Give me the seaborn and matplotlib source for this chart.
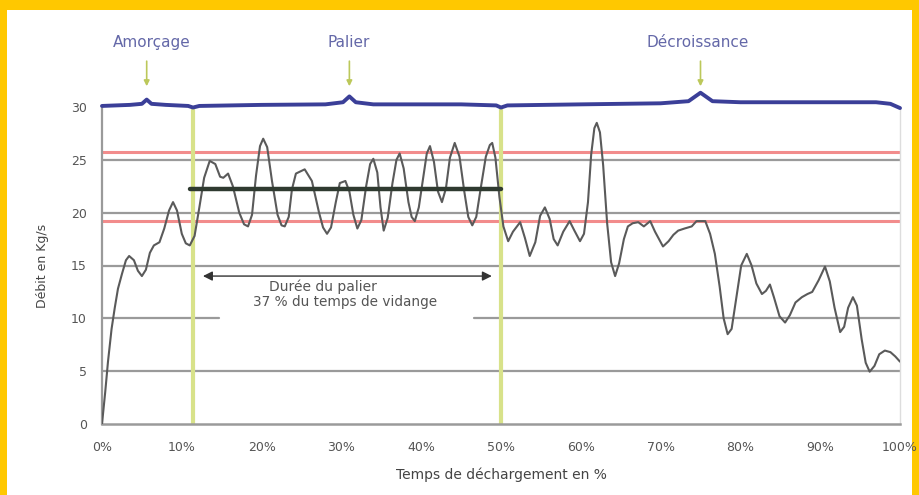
import matplotlib
matplotlib.use("Agg")
import matplotlib.pyplot as plt
import seaborn as sns
import pandas as pd
from matplotlib.patches import Rectangle

# ---------------- data ----------------
temps_pct = [0, 0.4, 0.75, 1.2, 1.6, 2.0, 2.5, 3.0, 3.4, 4.0, 4.5, 5.0, 5.5, 6.0, 6.5, 7.2, 7.8,
             8.4, 8.9, 9.4, 10.0, 10.5, 11.0, 11.6, 12.2, 12.8, 13.5, 14.2, 14.8, 15.2, 15.8,
             16.4, 17.2, 17.8, 18.3, 18.8, 19.3, 19.8, 20.2, 20.7, 21.3, 22.0, 22.5, 22.9,
             23.4, 23.8, 24.3, 25.4, 26.3, 27.2, 27.7, 28.2, 28.7, 29.3, 29.8, 30.5, 31.0,
             31.5, 32.0, 32.5, 33.1, 33.6, 34.0, 34.5, 34.9, 35.3, 35.8, 36.4, 36.9, 37.3,
             37.8, 38.4, 38.8, 39.2, 39.7, 40.3, 40.7, 41.1, 41.6, 42.1, 42.6, 43.1, 43.6,
             44.2, 44.8, 45.4, 45.9, 46.4, 46.9, 47.5, 48.1, 48.6, 48.9, 49.3, 49.8, 50.3,
             50.9, 51.5, 52.4, 53.0, 53.6, 54.3, 54.9, 55.5, 56.1, 56.6, 57.1, 57.8, 58.6,
             59.2, 59.9, 60.4, 60.9, 61.3, 61.7, 62.0, 62.4, 62.8, 63.3, 63.8, 64.3, 64.8,
             65.4, 65.9, 66.5, 67.2, 67.9, 68.7, 69.3, 70.3, 71.0, 71.6, 72.2, 73.0, 73.9,
             74.5, 75.6, 76.2, 76.8, 77.4, 77.9, 78.4, 78.9, 79.5, 80.1, 80.8, 81.4, 82.0,
             82.7, 83.2, 83.7, 84.2, 84.9, 85.6, 86.2, 86.9, 87.7, 88.4, 89.0, 89.8, 90.6,
             91.2, 91.8, 92.5, 93.0, 93.5, 94.1, 94.6, 95.2, 95.7, 96.2, 96.8, 97.4, 98.1,
             98.8, 99.4, 100.0]
debit = [0, 3.0, 5.9, 9.0, 11.0, 12.8, 14.2, 15.5, 15.9, 15.5, 14.5, 14.0, 14.6, 16.2, 16.9,
         17.2, 18.5, 20.2, 21.0, 20.2, 18.0, 17.1, 16.9, 17.8, 20.5, 23.3, 24.9, 24.6, 23.4,
         23.3, 23.7, 22.5, 20.0, 18.9, 18.7, 19.8, 23.5, 26.3, 27.0, 26.2, 23.0, 19.8, 18.8,
         18.7, 19.6, 22.2, 23.7, 24.1, 23.0, 20.0, 18.6, 18.0, 18.6, 21.0, 22.8, 23.0, 22.0,
         19.8, 18.5, 19.3, 22.5, 24.6, 25.1, 23.8, 20.5, 18.3, 19.5, 22.8, 25.0, 25.6, 24.2,
         21.0, 19.6, 19.2, 20.5, 23.6, 25.6, 26.3, 24.8, 22.0, 21.0, 22.3, 25.2, 26.6, 25.3,
         22.0, 19.6, 18.8, 19.6, 22.5, 25.3, 26.4, 26.6, 25.2, 21.5, 18.7, 17.3, 18.2, 19.1,
         17.6, 15.9, 17.2, 19.7, 20.5, 19.4, 17.5, 16.9, 18.2, 19.2, 18.3, 17.3, 18.0, 21.0,
         25.5, 28.0, 28.5, 27.6, 24.5, 19.0, 15.3, 14.0, 15.2, 17.5, 18.7, 19.0, 19.1, 18.7,
         19.2, 18.2, 16.8, 17.3, 17.9, 18.3, 18.5, 18.7, 19.2, 19.2, 18.0, 16.1, 13.0, 10.0,
         8.5, 9.0, 12.0, 15.0, 16.1, 15.0, 13.3, 12.3, 12.6, 13.2, 12.0, 10.2, 9.6, 10.3,
         11.5, 12.0, 12.3, 12.5, 13.6, 14.9, 13.5, 11.0, 8.7, 9.2, 11.0, 12.0, 11.2, 8.0,
         5.8, 4.95, 5.5, 6.6, 6.95, 6.8, 6.4, 5.9]

x_ticks = [0, 10, 20, 30, 40, 50, 60, 70, 80, 90, 100]
x_tick_labels = ["0%", "10%", "20%", "30%", "40%", "50%", "60%", "70%", "80%", "90%", "100%"]
y_ticks = [0, 5, 10, 15, 20, 25, 30]

phase_names = ["Amorçage", "Palier", "Décroissance"]
phase_pos = [5.6, 31.0, 75.0]
phase_label_x = [6.2, 30.9, 74.6]
phase_bounds = [11.4, 50.0]
seuils_rouges = [25.7, 19.2]
palier_moyen = 22.2

brace_x = [0, 3.5, 5.0, 5.6, 6.2, 8, 10.8, 11.4, 12.2, 20, 28, 30.2, 31.0, 31.8, 34, 45,
           49.4, 50.0, 50.8, 60, 70, 73.5, 75.0, 76.5, 80, 90, 97, 98.8, 100]
brace_y = [30.1, 30.2, 30.3, 30.7, 30.3, 30.2, 30.1, 29.95, 30.1, 30.2, 30.25, 30.45, 31.0,
           30.45, 30.25, 30.25, 30.15, 29.95, 30.15, 30.25, 30.35, 30.55, 31.35, 30.55, 30.45,
           30.45, 30.45, 30.3, 29.9]

# ---------------- style ----------------
sns.set_style("white")
plt.rcParams["font.family"] = ["DejaVu Sans"]

fig = plt.figure(figsize=(9.2, 4.95), dpi=100, facecolor="#FFC800")
fig.patches.append(Rectangle((7 / 920, 0), (912 - 7) / 920, (495 - 10) / 495,
                             transform=fig.transFigure, facecolor="white",
                             edgecolor="none", zorder=-10))

ax = fig.add_axes([102 / 920, 1 - 424 / 495, 798 / 920, 317 / 495])
ax.set_zorder(5)
ax.set_facecolor("white")
ax.set_xlim(0, 100)
ax.set_ylim(0, 30)

grid_c = "#9a9a9a"
# horizontal grid lines
for yv in [5, 15, 20, 25]:
    ax.axhline(yv, color=grid_c, lw=1.6, zorder=1)
ax.plot([0, 14.6], [10, 10], color=grid_c, lw=1.6, zorder=1)
ax.plot([46.6, 100], [10, 10], color=grid_c, lw=1.6, zorder=1)

# red threshold lines
for yv in seuils_rouges:
    ax.axhline(yv, color="#f07878", lw=2.2, alpha=0.85, zorder=2)

# phase boundaries
for xv in phase_bounds:
    ax.plot([xv, xv], [0, 30], color="#d8e28a", lw=3, zorder=2, solid_capstyle="butt")

# main curve
df = pd.DataFrame({"temps": temps_pct, "debit": debit})
sns.lineplot(data=df, x="temps", y="debit", ax=ax, color="#5a5a5a", lw=1.5, zorder=4,
             sort=False)

# mean plateau line
ax.plot([11.0, 50.0], [palier_moyen, palier_moyen], color="#2f3a30", lw=3.2, zorder=5)

# duration arrow
ax.annotate("", xy=(12.3, 14.0), xytext=(49.2, 14.0),
            arrowprops=dict(arrowstyle="<|-|>", color="#333333", lw=1.0,
                            mutation_scale=14), zorder=6)
ax.text(27.7, 12.95, "Durée du palier", ha="center", va="center", fontsize=10,
        color="#555555", zorder=6)
ax.text(30.4, 11.5, "37 % du temps de vidange", ha="center", va="center", fontsize=9.8,
        color="#555555", zorder=6)

# blue brace on top
ax.plot(brace_x, brace_y, color="#3b3f98", lw=2.8, clip_on=False, zorder=6,
        solid_capstyle="round")

# phase labels with arrows
for name, xp, xl in zip(phase_names, phase_pos, phase_label_x):
    ax.annotate("", xy=(xp, 31.7), xytext=(xp, 34.6),
                arrowprops=dict(arrowstyle="-|>", color="#bcc85a", lw=1.2,
                                mutation_scale=8), annotation_clip=False)
    ax.text(xl, 36.1, name, ha="center", va="center", fontsize=11,
            color="#6468a8", clip_on=False)

# spines / axes
ax.spines["top"].set_visible(False)
ax.spines["left"].set_color(grid_c)
ax.spines["left"].set_linewidth(1.6)
ax.spines["bottom"].set_color(grid_c)
ax.spines["bottom"].set_linewidth(1.8)
ax.spines["right"].set_color("#dddddd")
ax.spines["right"].set_linewidth(1.0)

ax.set_xticks(x_ticks)
ax.set_xticklabels(x_tick_labels)
ax.set_yticks(y_ticks)
ax.tick_params(axis="both", labelsize=9, colors="#555555", length=3, width=0.8,
               labelcolor="#555555")
ax.tick_params(axis="x", pad=9, color="#bbbbbb")
ax.tick_params(axis="y", pad=11, length=0)

ax.set_xlabel("Temps de déchargement en %", fontsize=10, color="#444444", labelpad=10)
ax.set_ylabel("Débit en Kg/s", fontsize=9, color="#444444", labelpad=16)

fig.savefig("out.png", dpi=100, facecolor=fig.get_facecolor())
